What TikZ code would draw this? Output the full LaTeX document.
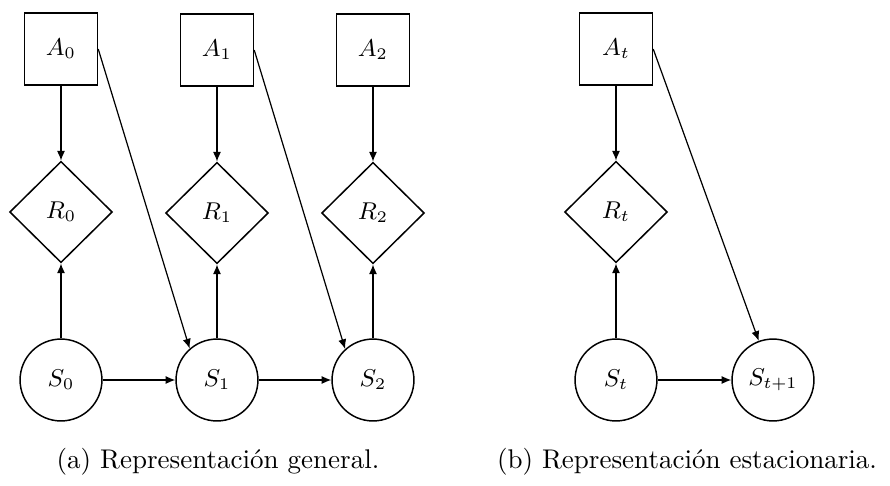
\documentclass[tikz,border=0pt]{standalone}
\usetikzlibrary{shapes.geometric,arrows.meta}
\begin{document}
\begin{tikzpicture}[x=0.37pt,y=-0.37pt,
  boxnode/.style={draw,line width=0.55pt,minimum width=27pt,minimum height=26.5pt,inner sep=0pt,font=\small},
  dianode/.style={draw,diamond,line width=0.55pt,minimum width=38pt,minimum height=37.5pt,inner sep=0pt,font=\small},
  circnode/.style={draw,circle,line width=0.55pt,minimum size=30.3pt,inner sep=0pt,font=\small},
  arr/.style={line width=0.45pt,-{Latex[length=3.6pt,width=3pt]}},
  capnode/.style={font=\normalsize,inner sep=0pt}]
\useasboundingbox (0,0) rectangle (890,485);
% panel (a)
\node[boxnode] (A0) at (61,49) {$A_0$};
\node[boxnode] (A1) at (217,50) {$A_1$};
\node[boxnode] (A2) at (373,50) {$A_2$};
\node[dianode] (R0) at (61,212) {$R_0$};
\node[dianode] (R1) at (217,213) {$R_1$};
\node[dianode] (R2) at (373,213) {$R_2$};
\node[circnode] (S0) at (61,380) {$S_0$};
\node[circnode] (S1) at (217,380) {$S_1$};
\node[circnode] (S2) at (373,380) {$S_2$};
\draw[arr] (A0) -- (R0);
\draw[arr] (A1) -- (R1);
\draw[arr] (A2) -- (R2);
\draw[arr] (S0) -- (R0);
\draw[arr] (S1) -- (R1);
\draw[arr] (S2) -- (R2);
\draw[arr] (S0) -- (S1);
\draw[arr] (S1) -- (S2);
\draw[arr] (A0.east) -- (S1.131);
\draw[arr] (A1.east) -- (S2.132);
% panel (b)
\node[boxnode] (At) at (616,49) {$A_t$};
\node[dianode] (Rt) at (616,212) {$R_t$};
\node[circnode] (St) at (616,380) {$S_t$};
\node[circnode] (St1) at (773,380) {$S_{t+1}$};
\draw[arr] (At) -- (Rt);
\draw[arr] (St) -- (Rt);
\draw[arr] (St) -- (St1);
\draw[arr] (At.east) -- (St1.110);
% captions
\node[capnode] (capa) at (218,462) {(a) Representación general.};
\node[capnode] (capb) at (687,462) {(b) Representación estacionaria.};
\end{tikzpicture}
\end{document}
